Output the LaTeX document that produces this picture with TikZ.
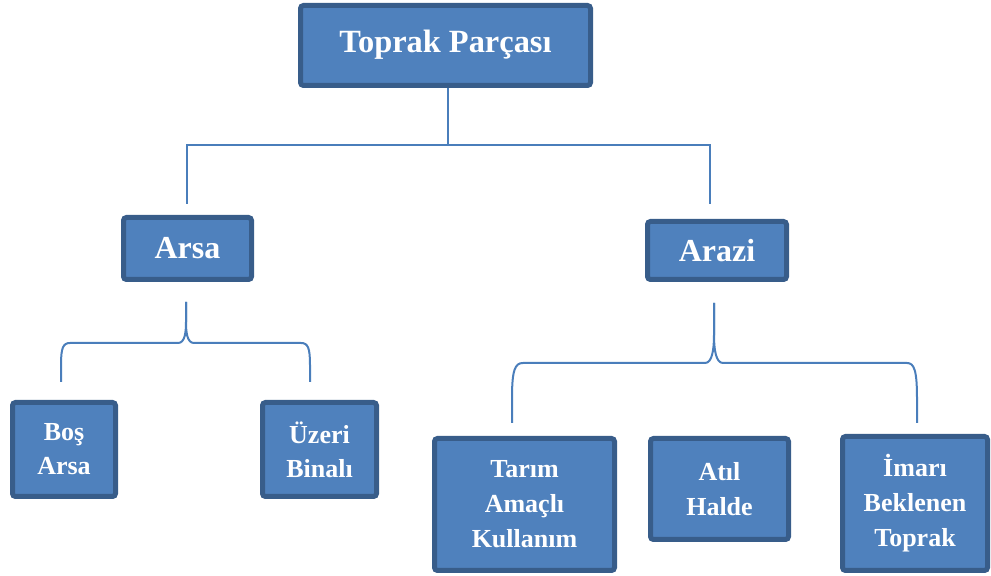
\documentclass[tikz,border=0pt]{standalone}
\usepackage{fontspec}
\setmainfont{Liberation Serif}
\usepackage{xcolor}
\definecolor{dolgu}{HTML}{4F81BD}
\definecolor{kenar}{HTML}{385D8A}
\definecolor{cizgi}{HTML}{4A7EBB}

\begin{document}
\begin{tikzpicture}[x=0.5pt,y=-0.5pt]
	\useasboundingbox (0,0) rectangle (991,576);
	\begin{scope}[every node/.style={draw=kenar,fill=dolgu,line width=2.5pt,rounded corners=1.5pt,text=white,align=center,inner sep=0pt}]
		\node[minimum width=145pt,minimum height=40pt,font=\fontsize{16.2}{19}\bfseries] (toprak) at (445.5,45.5) {\raisebox{4pt}{Toprak Parçası}};

		\node[minimum width=64pt,minimum height=31pt,font=\fontsize{16}{19}\bfseries] (arsa) at (187.5,248.5) {Arsa};
		\node[minimum width=69.5pt,minimum height=29pt,font=\fontsize{16}{19}\bfseries] (arazi) at (717,250.5) {Arazi};

		\node[minimum width=51.5pt,minimum height=47pt,font=\fontsize{13}{17}\bfseries] (bos) at (64,449.5) {Boş\\Arsa};
		\node[minimum width=57pt,minimum height=47pt,font=\fontsize{13}{17}\bfseries] (uzeri) at (319.5,449.5) {Üzeri\\Binalı};

		\node[minimum width=90pt,minimum height=66pt,font=\fontsize{13}{17.5}\bfseries] (tarim) at (524.5,504.5) {Tarım\\Amaçlı\\Kullanım};
		\node[minimum width=69pt,minimum height=50.5pt,font=\fontsize{13}{17.5}\bfseries] (atil) at (719.5,489) {Atıl\\Halde};
		\node[minimum width=72.5pt,minimum height=67pt,font=\fontsize{13}{17.5}\bfseries] (imar) at (915,503.5) {İmarı\\Beklenen\\Toprak};
	\end{scope}

	% uclar
	\coordinate (kavsak) at (448,145);
	\coordinate (arsaust) at (187,204);
	\coordinate (araziust) at (710,204);
	\coordinate (arsauc) at (186,302);
	\coordinate (bosust) at (61,382);
	\coordinate (uzeriust) at (310,382);
	\coordinate (araziuc) at (714,303);
	\coordinate (tarimust) at (512,423);
	\coordinate (imarust) at (917,423);

	\begin{scope}[draw=cizgi,line width=1pt]
		\draw (toprak.south -| kavsak) -- (kavsak);
		\draw (arsaust) |- (kavsak) -| (araziust);

		\draw (bosust) -- (61,365) .. controls (61,348) and (63,343) .. (70,343) -- (178,343) .. controls (185,343) and (186,332) .. (186,322) -- (arsauc);
		\draw (uzeriust) -- (310,365) .. controls (310,348) and (308,343) .. (301,343) -- (194,343) .. controls (187,343) and (186,332) .. (186,322) -- (arsauc);

		\draw (tarimust) -- (512,398) .. controls (512,370) and (515,363) .. (523,363) -- (705,363) .. controls (712,363) and (714,350) .. (714,335) -- (araziuc);
		\draw (imarust) -- (917,398) .. controls (917,370) and (914,363) .. (907,363) -- (723,363) .. controls (716,363) and (714,350) .. (714,335) -- (araziuc);
	\end{scope}
\end{tikzpicture}
\end{document}
